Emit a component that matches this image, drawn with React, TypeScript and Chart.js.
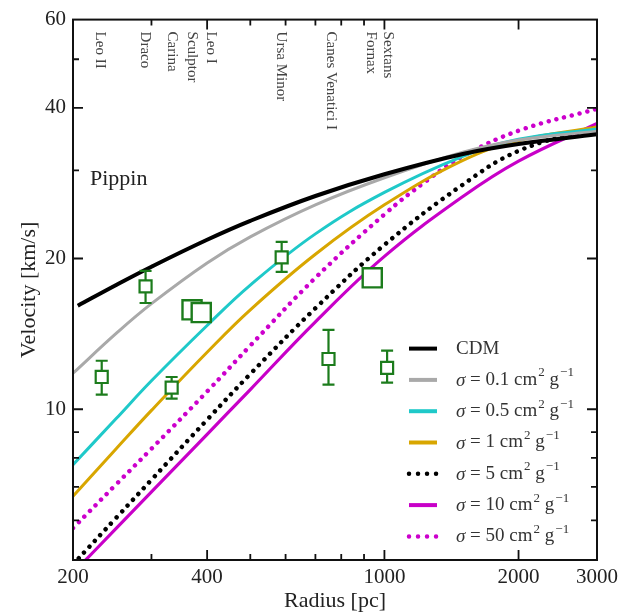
import React, { useEffect, useRef } from "react";
import { Chart, registerables } from "chart.js";
Chart.register(...registerables);

// ---- data ----
const radius = [200, 250, 300, 400, 500, 700, 1000, 1500, 2000, 3000];
const cdmRadius = [205, 250, 300, 400, 500, 700, 1000, 1500, 2000, 3000];
const cdm = [16.1, 17.71, 19.26, 21.8, 23.78, 26.66, 29.46, 32.34, 33.86, 35.4];
const sigma01 = [11.8, 14.17, 16.25, 19.6, 22.1, 25.6, 29.0, 32.6, 34.5, 35.9];
const sigma05 = [7.75, 9.58, 11.4, 14.7, 17.7, 22.4, 27.1, 32.0, 34.6, 36.3];
const sigma1 = [6.7, 8.34, 9.95, 13.0, 15.8, 20.4, 25.6, 31.4, 34.4, 36.6];
const sigma5 = [4.9, 6.07, 7.23, 9.53, 11.76, 15.91, 21.3, 28.1, 32.8, 36.6];
const sigma10 = [4.71, 5.78, 6.84, 8.91, 10.95, 14.95, 20.2, 26.6, 31.3, 37.2];
const sigma50Radius = [200, 250, 300, 400, 500, 700, 1000, 1250, 1500, 2000, 3000];
const sigma50 = [5.79, 7.08, 8.34, 10.85, 13.4, 18.3, 24.5, 28.7, 32.0, 36.0, 39.8];

const obsRadius = [232, 291, 333, 588, 749, 1014];
const obsVel = [11.6, 17.6, 11.05, 20.1, 12.6, 12.1];
const obsLow = [10.7, 16.3, 10.5, 18.8, 11.2, 11.3];
const obsHigh = [12.5, 18.9, 11.6, 21.6, 14.4, 13.1];

const bigRadius = [370, 388, 939];
const bigVel = [15.8, 15.6, 18.3];

const galaxyNames = ["Leo II", "Draco", "Carina", "Sculptor", "Leo I", "Ursa Minor", "Canes Venatici I", "Fornax", "Sextans"];
const galaxyRadius = [230, 290, 333, 370, 409, 585, 757, 934, 1020];

const xTickValues = [200, 300, 400, 500, 600, 700, 800, 900, 1000, 2000, 3000];
const xTickLabels = [200, 400, 1000, 2000, 3000];
const yTickValues = [5, 6, 7, 8, 9, 10, 20, 30, 40, 50, 60];
const yTickLabels = [10, 20, 40, 60];

const FONT = "'Liberation Serif', 'DejaVu Serif', serif";
const GREEN = "#1c7c1c";

function pts(xs: number[], ys: number[]) {
  return xs.map((x, i) => ({ x, y: ys[i] }));
}

const overlay = {
  id: "overlay",
  beforeDatasetDraw(chart: any, args: any) {
    if (args.index !== 0) return;
    const ctx = chart.ctx;
    const xs = chart.scales.x;
    const ys = chart.scales.y;
    ctx.save();
    ctx.strokeStyle = GREEN;
    ctx.lineWidth = 2.2;
    for (let i = 0; i < obsRadius.length; i++) {
      const x = xs.getPixelForValue(obsRadius[i]);
      const y1 = ys.getPixelForValue(obsLow[i]);
      const y2 = ys.getPixelForValue(obsHigh[i]);
      ctx.beginPath();
      ctx.moveTo(x, y1); ctx.lineTo(x, y2);
      ctx.moveTo(x - 6, y1); ctx.lineTo(x + 6, y1);
      ctx.moveTo(x - 6, y2); ctx.lineTo(x + 6, y2);
      ctx.stroke();
    }
    ctx.restore();
  },
  afterDraw(chart: any) {
    const ctx = chart.ctx;
    const { left, right, top, bottom } = chart.chartArea;
    const xs = chart.scales.x;
    const ys = chart.scales.y;
    ctx.save();
    // frame
    ctx.strokeStyle = "#111";
    ctx.lineWidth = 2;
    ctx.strokeRect(left, top, right - left, bottom - top);
    // inward ticks
    ctx.lineWidth = 1.8;
    ctx.beginPath();
    xTickValues.forEach((v) => {
      if (v === 200 || v === 3000) return;
      const x = xs.getPixelForValue(v);
      const len = xTickLabels.includes(v) ? 10 : 6;
      ctx.moveTo(x, bottom); ctx.lineTo(x, bottom - len);
      ctx.moveTo(x, top); ctx.lineTo(x, top + len);
    });
    yTickValues.forEach((v) => {
      if (v === 5 || v === 60) return;
      const y = ys.getPixelForValue(v);
      const len = yTickLabels.includes(v) ? 10 : 6;
      ctx.moveTo(left, y); ctx.lineTo(left + len, y);
      ctx.moveTo(right, y); ctx.lineTo(right - len, y);
    });
    ctx.stroke();

    // galaxy labels
    ctx.fillStyle = "#444";
    ctx.font = `15px ${FONT}`;
    ctx.textAlign = "left";
    ctx.textBaseline = "middle";
    galaxyNames.forEach((name, i) => {
      const x = xs.getPixelForValue(galaxyRadius[i]);
      ctx.save();
      ctx.translate(x, top + 12);
      ctx.rotate(Math.PI / 2);
      ctx.fillText(name, 0, 0);
      ctx.restore();
    });

    // Pippin
    ctx.fillStyle = "#222";
    ctx.font = `22px ${FONT}`;
    ctx.textBaseline = "alphabetic";
    ctx.fillText("Pippin", left + 17, top + 165);

    // legend
    const lx = right - 190;
    let ly = top + 329;
    const step = 31.3;
    chart.data.datasets.forEach((ds: any, i: number) => {
      if (i < 2) return;
      const dotted = ds.borderDash && ds.borderDash.length;
      ctx.save();
      ctx.strokeStyle = ds.borderColor;
      ctx.lineWidth = dotted ? 4.5 : 4;
      ctx.lineCap = dotted ? "round" : "butt";
      ctx.setLineDash(dotted ? [0.01, 9] : []);
      ctx.beginPath();
      ctx.moveTo(lx + 2, ly);
      ctx.lineTo(lx + 30, ly);
      ctx.stroke();
      ctx.restore();
      ctx.fillStyle = "#333";
      ctx.textBaseline = "middle";
      ctx.textAlign = "left";
      const tx = lx + 49;
      const label: string = ds.label;
      const m = label.match(/^σ = (\S+) cm/);
      if (!m) {
        ctx.font = `19px ${FONT}`;
        ctx.fillText(label, tx, ly);
      } else {
        let x = tx;
        ctx.font = `italic 19px ${FONT}`;
        ctx.fillText("σ", x, ly + 1);
        x += ctx.measureText("σ").width;
        ctx.font = `19px ${FONT}`;
        const p1 = " = " + m[1] + " cm";
        ctx.fillText(p1, x, ly);
        x += ctx.measureText(p1).width;
        ctx.font = `13px ${FONT}`;
        ctx.fillText("2", x + 1, ly - 7);
        x += ctx.measureText("2").width + 1;
        ctx.font = `19px ${FONT}`;
        ctx.fillText(" g", x, ly);
        x += ctx.measureText(" g").width;
        ctx.font = `13px ${FONT}`;
        ctx.fillText("−1", x + 1, ly - 7);
      }
      ly += step;
    });
    ctx.restore();
  },
};

export default function App() {
  const ref = useRef<HTMLCanvasElement | null>(null);
  useEffect(() => {
    if (!ref.current) return;
    const lineDs = (label: string, xs: number[], ys: number[], color: string, width: number, dotted = false) => ({
      type: "line",
      label,
      data: pts(xs, ys),
      borderColor: color,
      backgroundColor: color,
      borderWidth: width,
      borderDash: dotted ? [0.01, 8] : [],
      borderCapStyle: dotted ? "round" : "butt",
      pointRadius: 0,
      tension: 0.4,
      fill: false,
      order: 5,
      clip: 0,
    });
    const chart = new Chart(ref.current, {
      type: "line",
      data: {
        datasets: [
          {
            type: "line",
            label: "observed",
            data: pts(obsRadius, obsVel),
            showLine: false,
            pointStyle: "rect",
            pointRadius: 8.5,
            borderColor: GREEN,
            backgroundColor: "#ffffff",
            pointBorderWidth: 2.2,
            order: 0,
          },
          {
            type: "line",
            label: "observed large",
            data: pts(bigRadius, bigVel),
            showLine: false,
            pointStyle: "rect",
            pointRadius: 13.5,
            borderColor: GREEN,
            backgroundColor: "#ffffff",
            pointBorderWidth: 2.4,
            order: 1,
          },
          lineDs("CDM", cdmRadius, cdm, "#000000", 4),
          lineDs("σ = 0.1 cm² g⁻¹", radius, sigma01, "#a9a9a9", 3),
          lineDs("σ = 0.5 cm² g⁻¹", radius, sigma05, "#1fc9c9", 3),
          lineDs("σ = 1 cm² g⁻¹", radius, sigma1, "#d8a600", 3),
          lineDs("σ = 5 cm² g⁻¹", radius, sigma5, "#000000", 4.5, true),
          lineDs("σ = 10 cm² g⁻¹", radius, sigma10, "#c800c8", 3.2),
          lineDs("σ = 50 cm² g⁻¹", sigma50Radius, sigma50, "#cc00cc", 4.5, true),
        ] as any,
      },
      options: {
        animation: false,
        responsive: true,
        maintainAspectRatio: false,
        layout: { padding: { top: 15, right: 23, left: 0, bottom: 0 } },
        plugins: { legend: { display: false }, tooltip: { enabled: false } },
        scales: {
          x: {
            type: "logarithmic",
            min: 200,
            max: 3000,
            grid: { display: false, drawTicks: false },
            border: { display: false },
            afterBuildTicks: (s: any) => { s.ticks = xTickValues.map((v) => ({ value: v })); },
            afterFit: (s: any) => { s.height = 56; },
            ticks: {
              autoSkip: false,
              maxRotation: 0,
              padding: 5,
              color: "#222",
              font: { family: FONT, size: 21 },
              callback: (v: any) => (xTickLabels.includes(Number(v)) ? String(v) : ""),
            },
            title: { display: true, text: "Radius [pc]", color: "#222", font: { family: FONT, size: 22 }, padding: { top: 0, bottom: 2 } },
          },
          y: {
            type: "logarithmic",
            min: 5,
            max: 60,
            grid: { display: false, drawTicks: false },
            border: { display: false },
            afterBuildTicks: (s: any) => { s.ticks = yTickValues.map((v) => ({ value: v })); },
            afterFit: (s: any) => { s.width = 73; },
            ticks: {
              autoSkip: false,
              padding: 7,
              color: "#222",
              font: { family: FONT, size: 21 },
              callback: (v: any) => (yTickLabels.includes(Number(v)) ? String(v) : ""),
            },
            title: { display: true, text: "Velocity [km/s]", color: "#222", font: { family: FONT, size: 22 }, padding: { top: 16, bottom: 0 } },
          },
        },
      } as any,
      plugins: [overlay],
    });
    return () => chart.destroy();
  }, []);
  return (
    <div style={{ position: "absolute", left: 0, top: 0, width: 623, height: 616, background: "#fff" }}>
      <canvas ref={ref} />
    </div>
  );
}
